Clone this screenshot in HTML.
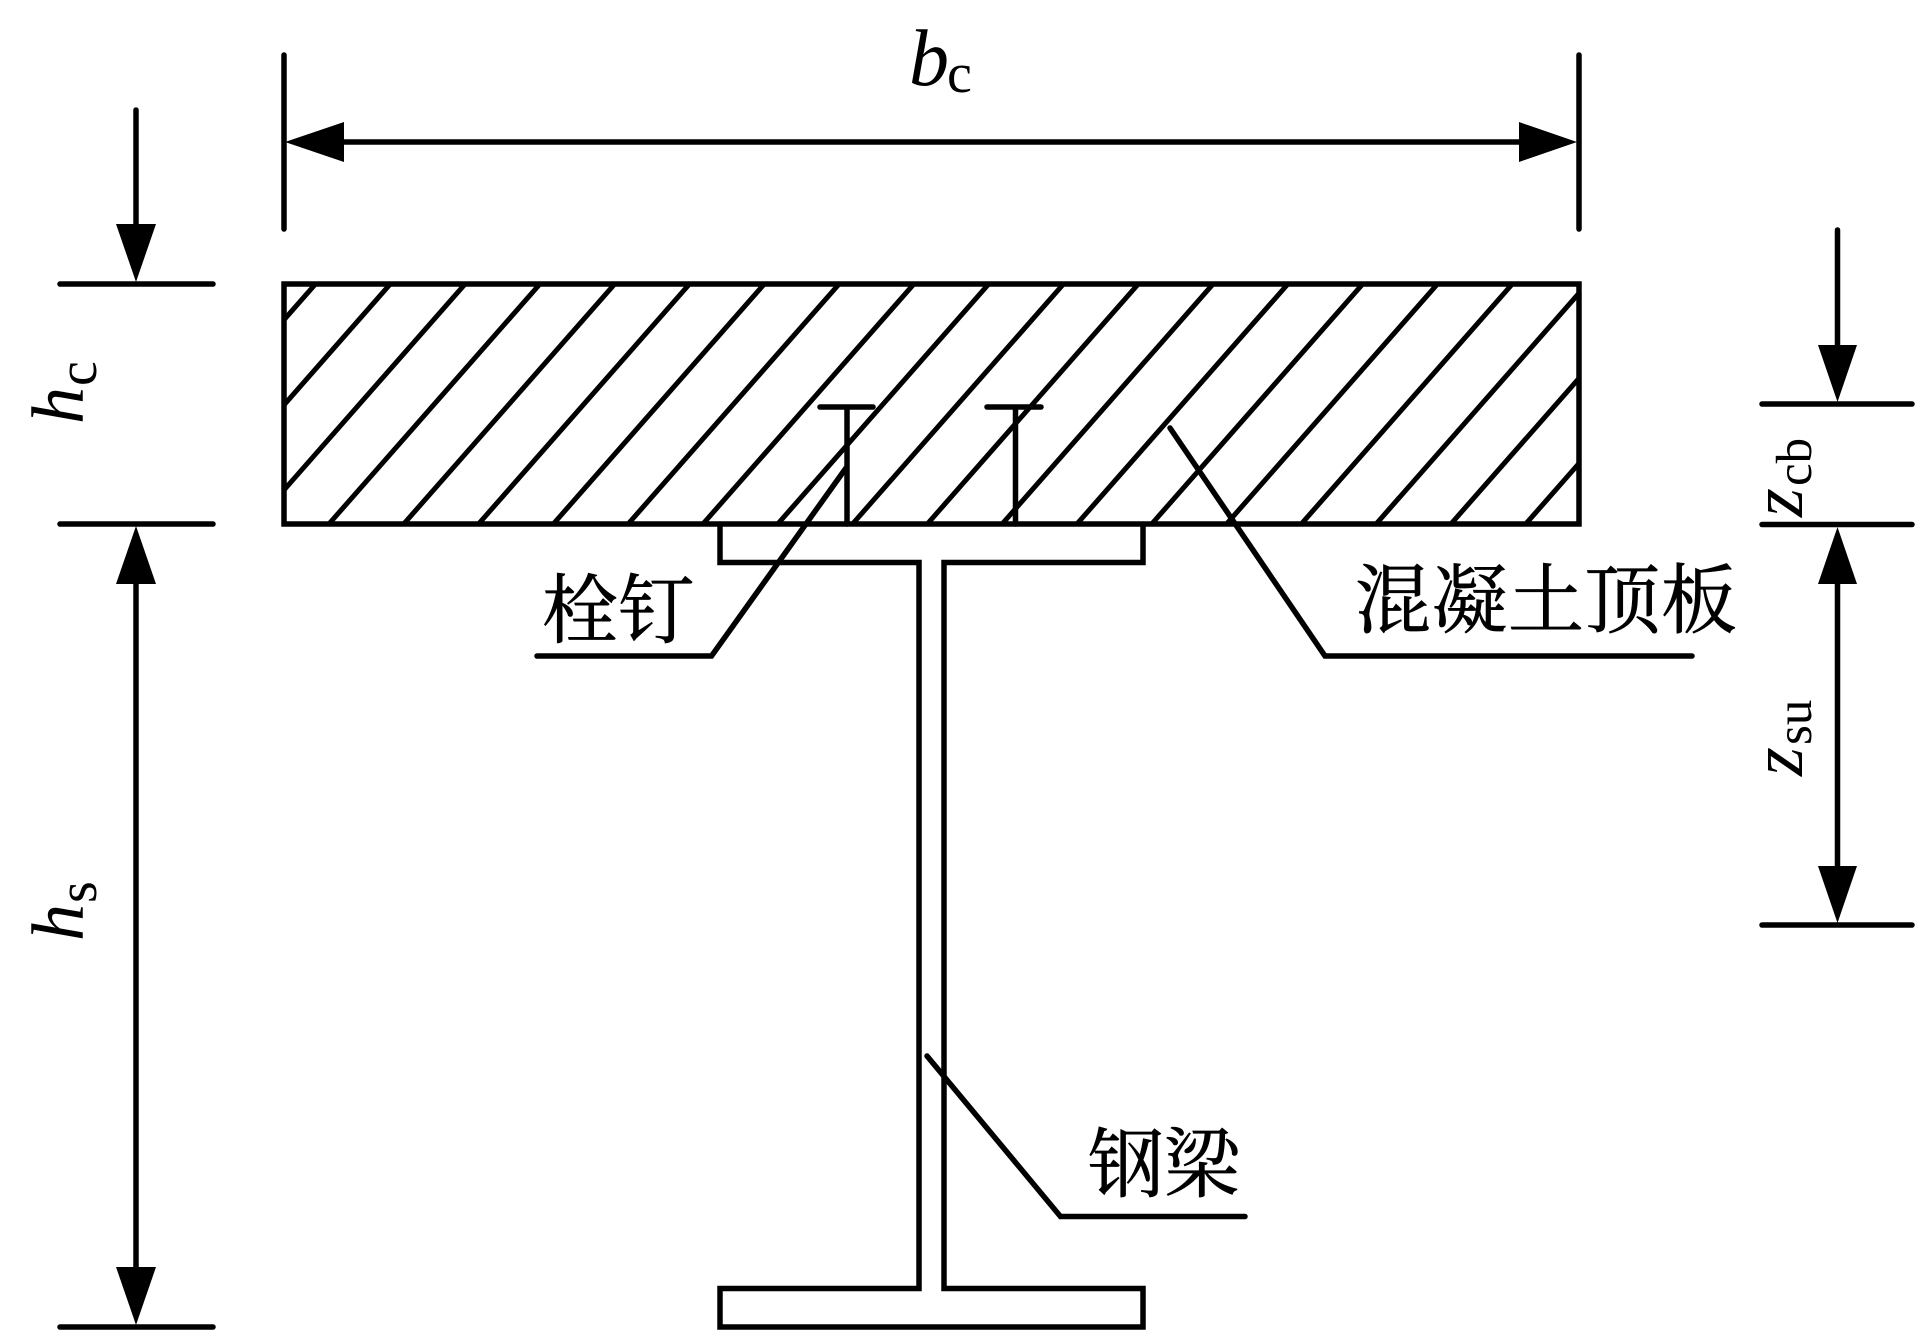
<!DOCTYPE html>
<html>
<head>
<meta charset="utf-8">
<style>
html,body{margin:0;padding:0;background:#fff;}
svg{display:block;}
.l{stroke:#000;stroke-width:5.5;fill:none;stroke-linecap:round;stroke-linejoin:miter;}
.h{stroke:#000;stroke-width:5;fill:none;}
.cjk{font-family:"Liberation Serif","Noto Serif CJK SC",serif;font-size:76px;fill:#000;stroke:#000;stroke-width:.7;}
.it{font-family:"Liberation Serif",serif;font-style:italic;fill:#000;}
.rm{font-family:"Liberation Serif",serif;fill:#000;}
</style>
</head>
<body>
<svg width="1918" height="1330" viewBox="0 0 1918 1330" xmlns="http://www.w3.org/2000/svg">
<rect width="1918" height="1330" fill="#fff"/>
<defs><clipPath id="c"><rect x="284" y="284" width="1295" height="240"/></clipPath></defs>

<!-- hatch -->
<g class="h" clip-path="url(#c)">
<path d="M315.5 284L104.5 524M390.3 284L179.3 524M465.1 284L254.1 524M539.9 284L328.9 524M614.7 284L403.7 524M689.5 284L478.5 524M764.3 284L553.3 524M839.1 284L628.1 524M913.9 284L702.9 524M988.7 284L777.7 524M1063.5 284L852.5 524M1138.3 284L927.3 524M1213.1 284L1002.1 524M1287.9 284L1076.9 524M1362.7 284L1151.7 524M1437.5 284L1226.5 524M1512.3 284L1301.3 524M1587.1 284L1376.1 524M1661.9 284L1450.9 524M1736.7 284L1525.7 524"/>
</g>

<!-- slab -->
<rect class="l" x="284" y="284" width="1295" height="240"/>

<!-- studs -->
<path class="l" d="M820 407H873M847 407V524M987 407H1041M1015.5 407V524"/>

<!-- steel beam -->
<path class="l" stroke-linecap="butt" d="M720 524V562.5H919V1288.5H720V1327H1143V1288.5H944V562.5H1143V524"/>

<!-- leaders -->
<path class="l" d="M846 468L711.5 656H537"/>
<path class="l" d="M1170 428L1325 656H1692"/>
<path class="l" d="M927 1056L1060.5 1216.5H1245"/>

<!-- top dimension -->
<path class="l" d="M284 55V229M1579 55V229M340 142H1524"/>
<polygon points="285,142 344,122 344,162" fill="#000"/>
<polygon points="1577,142 1519,122 1519,162" fill="#000"/>

<!-- left dimensions -->
<path class="l" d="M60 284H213M60 524H213M60 1327H213M136 110V230M136 580V1270"/>
<polygon points="136,282 116,224 156,224" fill="#000"/>
<polygon points="136,526 116,584 156,584" fill="#000"/>
<polygon points="136,1325 116,1267 156,1267" fill="#000"/>

<!-- right dimensions -->
<path class="l" d="M1762 404H1912M1762 524.5H1912M1762 925H1912M1837.5 230V350M1837.5 580V870"/>
<polygon points="1837.5,402 1818,345 1857,345" fill="#000"/>
<polygon points="1837.5,527 1818,584 1857,584" fill="#000"/>
<polygon points="1837.5,923 1818,866 1857,866" fill="#000"/>

<!-- labels -->
<text class="cjk" x="542" y="637">栓钉</text>
<text class="cjk" x="1355" y="627" letter-spacing="0.5">混凝土顶板</text>
<text class="cjk" x="1088" y="1191">钢梁</text>

<text class="it" x="909" y="85" font-size="80">b</text>
<text class="rm" x="947" y="92" font-size="56">c</text>

<text class="it" font-size="74" transform="translate(83,424) rotate(-90)">h</text>
<text class="rm" font-size="56" transform="translate(96,386) rotate(-90)">c</text>

<text class="it" font-size="74" transform="translate(83,941) rotate(-90)">h</text>
<text class="rm" font-size="56" transform="translate(96,903) rotate(-90)">s</text>

<text class="it" font-size="74" transform="translate(1802,517) rotate(-90)">z</text>
<text class="rm" font-size="51" transform="translate(1811,486) rotate(-90)">cb</text>

<text class="it" font-size="74" transform="translate(1802,776) rotate(-90)">z</text>
<text class="rm" font-size="51" transform="translate(1811,745) rotate(-90)">su</text>
</svg>
</body>
</html>
